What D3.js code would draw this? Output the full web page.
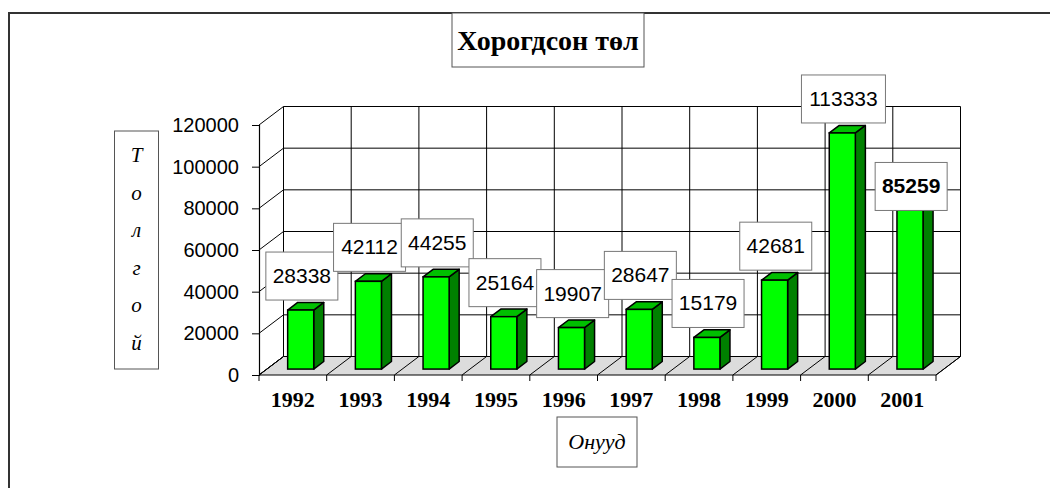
<!DOCTYPE html>
<html><head><meta charset="utf-8">
<script src="https://cdn.jsdelivr.net/npm/d3@7"></script>
<style>html,body{margin:0;padding:0;background:#fff}svg{display:block}</style>
</head><body>
<svg id="c" width="1050" height="488"></svg>
<script>
const years = ["1992","1993","1994","1995","1996","1997","1998","1999","2000","2001"];
const values = [28338,42112,44255,25164,19907,28647,15179,42681,113333,85259];
const yTicks = [0,20000,40000,60000,80000,100000,120000];
const title = "Хорогдсон төл";
const yTitle = ["Т","о","л","г","о","й"];
const xTitle = "Онууд";
const highlightYear = "2001";

const svg = d3.select("#c");
const W = 1050, H = 488;
const serif = "'Liberation Serif','Times New Roman',serif";
const sans = "'Liberation Sans',Arial,sans-serif";

const x = d3.scaleBand().domain(years).range([259, 936]).paddingInner(0).paddingOuter(0);
const y = d3.scaleLinear().domain([0, 120000]).range([375, 125]);
const DX = 24.5, DY = -18.5;   // wall depth
const bf1 = 0.32, bf2 = 0.73;  // bar depth fractions
const bw = x.bandwidth() * 0.385;

// outer border (top & left)
svg.append("path").attr("d", `M9,${H} L9,13 L${W},13`).attr("fill","none").attr("stroke","#333").attr("stroke-width",2);

const g = svg.append("g");
const x0 = x.range()[0], x1 = x.range()[1];
const yb = y(0);

// floor
g.append("path")
  .attr("d", `M${x0},${yb} L${x1},${yb} L${x1+DX},${yb+DY} L${x0+DX},${yb+DY} Z`)
  .attr("fill","#dcdcdc").attr("stroke","#000").attr("stroke-width",1);

// back wall grid
const bounds = years.map(d => x(d)).concat([x1]);
g.selectAll(".vgrid").data(bounds).enter().append("line")
  .attr("x1", d => d + DX).attr("x2", d => d + DX)
  .attr("y1", y(0) + DY).attr("y2", y(120000) + DY)
  .attr("stroke","#000").attr("stroke-width",1);
g.selectAll(".hgrid").data(yTicks.filter(t => t > 0)).enter().append("line")
  .attr("x1", x0 + DX).attr("x2", x1 + DX)
  .attr("y1", d => y(d) + DY).attr("y2", d => y(d) + DY)
  .attr("stroke","#000").attr("stroke-width",1);
// side wall diagonals
g.selectAll(".diag").data(yTicks).enter().append("line")
  .attr("x1", x0).attr("x2", x0 + DX)
  .attr("y1", d => y(d)).attr("y2", d => y(d) + DY)
  .attr("stroke","#000").attr("stroke-width",1);
// floor diagonals
g.selectAll(".fdiag").data(bounds).enter().append("line")
  .attr("x1", d => d).attr("x2", d => d + DX)
  .attr("y1", yb).attr("y2", yb + DY)
  .attr("stroke","#000").attr("stroke-width",1);

// y axis
const yAxis = d3.axisLeft(y).tickValues(yTicks).tickSize(7).tickPadding(13).tickFormat(d3.format("d"));
const ya = g.append("g").attr("transform", `translate(${x0},0)`).call(yAxis);
ya.select(".domain").attr("stroke","#000").attr("stroke-width",1.2);
ya.selectAll(".tick line").attr("stroke","#000");
ya.selectAll(".tick text").attr("font-family", sans).attr("font-size", 20).attr("fill","#000");

// x ticks and labels
g.selectAll(".xt").data(bounds).enter().append("line")
  .attr("x1", d => d).attr("x2", d => d).attr("y1", yb).attr("y2", yb + 6)
  .attr("stroke","#000").attr("stroke-width",1);
g.selectAll(".xl").data(years).enter().append("text")
  .attr("x", d => x(d) + x.bandwidth()/2).attr("y", 407)
  .attr("text-anchor","middle").attr("font-family", serif).attr("font-weight","bold")
  .attr("font-size", 22).text(d => d);

// bars
const data = years.map((d, i) => ({year: d, value: values[i]}));
const bars = g.selectAll(".bar").data(data).enter().append("g");
bars.each(function(d) {
  const gb = d3.select(this);
  const cx = x(d.year) + x.bandwidth()/2;
  const fx = cx - bw/2 + DX*bf1, fy = DY*bf1;
  const ddx = DX*(bf2-bf1), ddy = DY*(bf2-bf1);
  const L = fx, R = fx + bw, T = y(d.value) + fy, B = y(0) + fy;
  gb.append("path").attr("d", `M${R},${B} L${R+ddx},${B+ddy} L${R+ddx},${T+ddy} L${R},${T} Z`)
    .attr("fill","#008000").attr("stroke","#000").attr("stroke-width",1.5).attr("stroke-linejoin","round");
  gb.append("path").attr("d", `M${L},${T} L${R},${T} L${R+ddx},${T+ddy} L${L+ddx},${T+ddy} Z`)
    .attr("fill","#00c000").attr("stroke","#000").attr("stroke-width",1.5).attr("stroke-linejoin","round");
  gb.append("rect").attr("x", L).attr("y", T).attr("width", bw).attr("height", B - T)
    .attr("fill","#00ff00").attr("stroke","#000").attr("stroke-width",1.5);
});

// value labels
const labels = g.selectAll(".lab").data(data).enter().append("g");
labels.each(function(d) {
  const gl = d3.select(this);
  const cx = x(d.year) + x.bandwidth()/2 + 9;
  const top = y(d.value) + DY*bf1;
  const hi = d.year === highlightYear;
  const cy = hi ? top - 5 : top - 34;
  const txt = String(d.value);
  const w = txt.length * 12 + 12, h = 48;
  gl.append("rect").attr("x", cx - w/2).attr("y", cy - h/2).attr("width", w).attr("height", h)
    .attr("fill","#fff").attr("stroke","#777").attr("stroke-width",1);
  gl.append("text").attr("x", cx).attr("y", cy + 7).attr("text-anchor","middle")
    .attr("font-family", sans).attr("font-size", 21).attr("font-weight", hi ? "bold" : "normal")
    .text(txt);
});

// title
const tb = svg.append("g");
tb.append("rect").attr("x", 452).attr("y", 13).attr("width", 192).attr("height", 54)
  .attr("fill","#fff").attr("stroke","#555").attr("stroke-width",1);
tb.append("text").attr("x", 548).attr("y", 50).attr("text-anchor","middle")
  .attr("font-family", serif).attr("font-weight","bold").attr("font-size", 28).text(title);

// y title
const yt = svg.append("g");
yt.append("rect").attr("x", 114.5).attr("y", 131).attr("width", 44).attr("height", 238)
  .attr("fill","#fff").attr("stroke","#555").attr("stroke-width",1);
yt.selectAll("text").data(yTitle).enter().append("text")
  .attr("x", 136.5).attr("y", (d, i) => 162 + i * 37.5).attr("text-anchor","middle")
  .attr("font-family", serif).attr("font-style","italic").attr("font-size", 21).text(d => d);

// x title
const xt = svg.append("g");
xt.append("rect").attr("x", 557).attr("y", 417).attr("width", 80).attr("height", 50)
  .attr("fill","#fff").attr("stroke","#555").attr("stroke-width",1);
xt.append("text").attr("x", 597).attr("y", 449).attr("text-anchor","middle")
  .attr("font-family", serif).attr("font-style","italic").attr("font-size", 22).text(xTitle);
</script>
</body></html>
